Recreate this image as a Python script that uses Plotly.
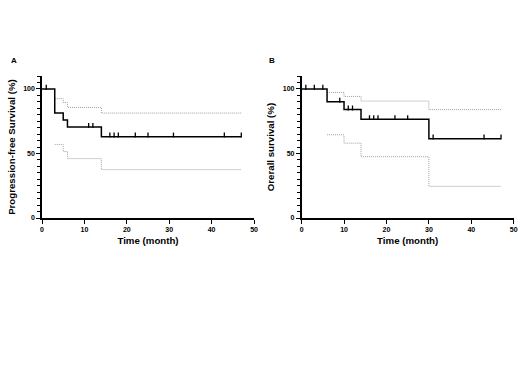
import plotly.graph_objects as go

# ---- Panel A: Progression-free survival ----
pfs_t = [0, 3, 5, 6, 14, 47]
pfs_s = [100, 81.3, 76, 70.5, 63, 63]
pfs_up_t = [3, 5, 6, 14, 47]
pfs_up = [92.5, 89.5, 85.7, 81.3, 81.3]
pfs_lo_t = [3, 5, 6, 14, 47]
pfs_lo = [57, 51.5, 46, 37.5, 37.5]
pfs_cens_t = [1, 11, 12, 16, 17, 18, 22, 25, 31, 43, 47]
pfs_cens_s = [100, 70.5, 70.5, 63, 63, 63, 63, 63, 63, 63, 63]

# ---- Panel B: Overall survival ----
os_t = [0, 6, 10, 14, 30, 47]
os_s = [100, 90, 84, 76.5, 61.5, 61.5]
os_up_t = [6, 10, 14, 30, 47]
os_up = [97.3, 94.2, 90.6, 84, 84]
os_lo_t = [6, 10, 14, 30, 47]
os_lo = [64.5, 58, 47.5, 24.5, 24.5]
os_cens_t = [1, 3, 5, 9, 11, 12, 16, 17, 18, 22, 25, 31, 43, 47]
os_cens_s = [100, 100, 100, 90, 84, 84, 76.5, 76.5, 76.5, 76.5, 76.5, 61.5, 61.5, 61.5]

x_ticks = [0, 10, 20, 30, 40, 50]
y_ticks = [0, 50, 100]
y_titles = ["Progression-free Survival (%)", "Orerall survival (%)"]
x_title = "Time (month)"
panel_labels = ["A", "B"]

FONT = "Liberation Sans"
CENSOR_LIFT = 1.3  # censor tick drawn just above the curve (style offset, data units)
fig = go.Figure()

def add_panel(i, t, s, ut, u, lt, l, ct, cs):
    xa = "x" if i == 0 else "x2"
    ya = "y" if i == 0 else "y2"
    ci = dict(color="#a0a0a0", width=1, dash="1px,1px", shape="hv")
    fig.add_trace(go.Scatter(x=ut, y=u, mode="lines", line=ci, xaxis=xa, yaxis=ya, showlegend=False))
    fig.add_trace(go.Scatter(x=lt, y=l, mode="lines", line=ci, xaxis=xa, yaxis=ya, showlegend=False))
    fig.add_trace(go.Scatter(x=t, y=s, mode="lines", line=dict(color="black", width=1.5, shape="hv"),
                             xaxis=xa, yaxis=ya, showlegend=False))
    fig.add_trace(go.Scatter(x=ct, y=[v + CENSOR_LIFT for v in cs], mode="markers",
                             marker=dict(symbol="line-ns", size=3.5, line=dict(color="black", width=1.3)),
                             xaxis=xa, yaxis=ya, showlegend=False))

add_panel(0, pfs_t, pfs_s, pfs_up_t, pfs_up, pfs_lo_t, pfs_lo, pfs_cens_t, pfs_cens_s)
add_panel(1, os_t, os_s, os_up_t, os_up, os_lo_t, os_lo, os_cens_t, os_cens_s)

tickfont = dict(family=FONT, size=7, color="black", weight="bold")
titlefont = dict(family=FONT, size=9.7, color="black", weight="bold")

def xaxis(dom, anchor):
    return dict(domain=dom, anchor=anchor, range=[0, 50], tickvals=x_ticks, showgrid=False, zeroline=False,
                automargin=False,
                showline=True, linecolor="black", linewidth=1.5, ticks="outside", ticklen=4,
                tickwidth=1.2, tickcolor="black", tickfont=tickfont,
                title=dict(text=x_title, font=titlefont, standoff=5))

def yaxis(dom, anchor, title):
    return dict(domain=dom, anchor=anchor, range=[0, 110], tickvals=y_ticks, showgrid=False, zeroline=False,
                automargin=False,
                showline=True, linecolor="black", linewidth=1.5, ticks="outside", ticklen=4,
                tickwidth=1.2, tickcolor="black", tickfont=tickfont,
                minor=dict(dtick=5, tick0=0, ticks="outside", ticklen=3, tickwidth=1, tickcolor="black"),
                title=dict(text=title, font=titlefont, standoff=6))

ydom = [0.441, 0.805]
fig.update_layout(
    width=520, height=390, margin=dict(l=0, r=0, t=0, b=0, autoexpand=False),
    paper_bgcolor="white", plot_bgcolor="white",
    xaxis=xaxis([0.0808, 0.4885], "y"),
    yaxis=yaxis(ydom, "x", y_titles[0]),
    xaxis2=xaxis([0.580, 0.988], "y2"),
    yaxis2=yaxis(ydom, "x2", y_titles[1]),
    annotations=[
        dict(text=panel_labels[0], x=14 / 520, y=1 - 60 / 390, xref="paper", yref="paper",
             xanchor="center", yanchor="middle",
             showarrow=False, font=dict(family=FONT, size=8, color="black", weight="bold")),
        dict(text=panel_labels[1], x=272 / 520, y=1 - 60 / 390, xref="paper", yref="paper",
             xanchor="center", yanchor="middle",
             showarrow=False, font=dict(family=FONT, size=8, color="black", weight="bold")),
    ],
)

fig.write_html("out.html", config={"displayModeBar": False},
               post_script="document.body.style.margin='0';document.body.style.overflow='hidden';")
